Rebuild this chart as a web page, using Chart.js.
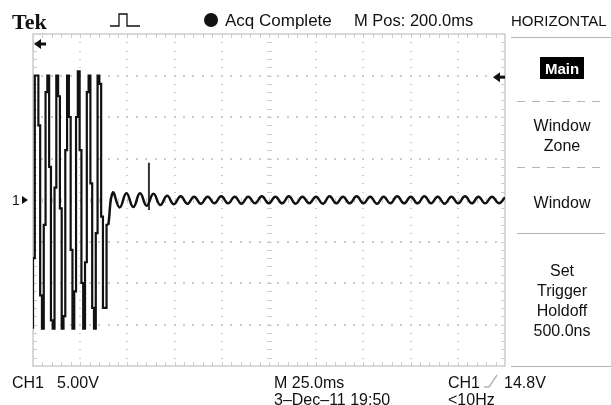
<!DOCTYPE html>
<html>
<head>
<meta charset="utf-8">
<script src="https://cdn.jsdelivr.net/npm/chart.js@4.4.0/dist/chart.umd.min.js"></script>
<style>
  html, body { margin: 0; padding: 0; background: #fff; }
  canvas { display: block; }
</style>
</head>
<body>
<canvas id="scope" width="611" height="405"></canvas>
<script>
// time in ms (10 div x 25 ms), voltage in V (8 div x 5 V)
const burstTime = [0, 0.95, 1.9, 2.85, 3.8, 4.75, 5.7, 6.65, 7.6, 8.55, 9.5, 10.45, 11.4, 12.35, 13.3,
  14.25, 15.2, 16.15, 17.1, 18.05, 19.0, 19.95, 20.9, 21.85, 22.8, 23.75, 24.7, 25.65, 26.6, 27.55,
  28.5, 29.45, 30.4, 31.35, 32.3, 33.25, 34.2, 35.15, 36.1, 37.05, 38.0, 38.95, 39.9];
const burstVolts = [
  -15.5, -7, 15, 15, 9, -11.5,
  -15.5, -3, 13, 15, 4, -14.5,
  -15.5, 1.5, 15, 12.5, -1, -15.5,
  -14, 6, 15, 10, -6, -15.5,
  -11, 10, 15.5, 6, -10, -15.5,
  -7.5, 13, 15, 2, -13, -15.5,
  -4, 15, 14, -2, -13, -13,
  -3];

const tailTime = [39.9, 42.3, 45.9, 49.5, 53.1, 56.7, 60.2, 63.8, 67.4, 71.0, 74.6, 78.2, 81.8, 85.3, 88.9,
  92.5, 96.1, 99.7, 103.3, 106.9, 110.4, 114.0, 117.6, 121.2, 124.8, 128.4, 132.0, 135.5, 139.1, 142.7,
  146.3, 149.9, 153.5, 157.1, 160.6, 164.2, 167.8, 171.4, 175.0, 178.6, 182.2, 185.7, 189.3, 192.9, 196.5,
  200.1, 203.7, 207.3, 210.8, 214.4, 218.0, 221.6, 225.2, 228.8, 232.4, 235.9, 239.5, 243.1, 246.7, 250.0];
const tailVolts = [-3, 0.9, -0.9, 0.8, -0.85, 0.8, -0.7, 0.75, -0.6, 0.5, -0.5, 0.45, -0.45, 0.4, -0.45,
  0.4, -0.4, 0.45, -0.4, 0.4, -0.45, 0.4, -0.4, 0.45, -0.4, 0.4, -0.4, 0.45, -0.45, 0.4,
  -0.4, 0.4, -0.45, 0.45, -0.4, 0.4, -0.4, 0.45, -0.4, 0.4, -0.45, 0.4, -0.4, 0.45, -0.4,
  0.4, -0.4, 0.45, -0.4, 0.4, -0.45, 0.4, -0.4, 0.45, -0.4, 0.4, -0.4, 0.4, -0.4, 0.3];

const spikeTime = [61.4, 61.4];
const spikeVolts = [4.5, -1.2];

const timeRange = [0, 250];
const voltRange = [-20, 20];
const trigLevel = 14.8;

const toPoints = (xs, ys) => xs.map((t, i) => ({ x: t, y: ys[i] }));

const FONT = '"Liberation Sans", Arial, sans-serif';
const GRID = '#cbcbcb';

// graticule like the scope screen: dotted divisions, ticked border and centre lines
const graticule = {
  id: 'graticule',
  beforeDatasetsDraw(chart) {
    const { ctx, chartArea: a } = chart;
    const dx = (a.right - a.left) / 10;
    const dy = (a.bottom - a.top) / 8;
    ctx.save();
    ctx.fillStyle = GRID;
    for (let i = 1; i < 10; i++) {
      const gx = Math.round(a.left + i * dx);
      for (let k = 1; k < 40; k++) {
        const gy = Math.round(a.top + k * dy / 5);
        if (i === 5) ctx.fillRect(gx - 2, gy, 5, 1);
        else ctx.fillRect(gx - 1, gy, 2, 1);
      }
    }
    for (let j = 1; j < 8; j++) {
      const gy = Math.round(a.top + j * dy);
      for (let k = 1; k < 50; k++) {
        const gx = Math.round(a.left + k * dx / 5);
        if (j === 4) ctx.fillRect(gx, gy - 2, 1, 5);
        else ctx.fillRect(gx - 1, gy - 1, 2, 2);
      }
    }
    ctx.strokeStyle = GRID;
    ctx.lineWidth = 1.5;
    ctx.strokeRect(a.left, a.top, a.right - a.left, a.bottom - a.top);
    ctx.lineWidth = 1;
    ctx.beginPath();
    for (let k = 1; k < 50; k++) {
      const gx = Math.round(a.left + k * dx / 5) + 0.5;
      ctx.moveTo(gx, a.top); ctx.lineTo(gx, a.top + 4);
      ctx.moveTo(gx, a.bottom); ctx.lineTo(gx, a.bottom - 4);
    }
    for (let k = 1; k < 40; k++) {
      const gy = Math.round(a.top + k * dy / 5) + 0.5;
      ctx.moveTo(a.left, gy); ctx.lineTo(a.left + 4, gy);
      ctx.moveTo(a.right, gy); ctx.lineTo(a.right - 4, gy);
    }
    ctx.stroke();
    ctx.restore();
  },
  afterDraw(chart) {
    const { ctx, chartArea: a, scales: { x, y } } = chart;
    ctx.save();
    ctx.fillStyle = '#111';
    ctx.strokeStyle = '#111';
    ctx.textBaseline = 'alphabetic';

    // header
    ctx.font = 'bold 22px "Liberation Serif", serif';
    ctx.fillText('Tek', 12, 29);
    ctx.font = '17px ' + FONT;
    ctx.fillText('Acq Complete', 225, 26);
    ctx.font = '16.5px ' + FONT;
    ctx.fillText('M Pos: 200.0ms', 354, 26);
    ctx.font = '15px ' + FONT;
    ctx.fillText('HORIZONTAL', 511, 26);

    // acquisition dot
    ctx.beginPath();
    ctx.arc(211, 20, 7, 0, Math.PI * 2);
    ctx.fill();

    // trigger pulse icon
    ctx.lineWidth = 1.3;
    ctx.beginPath();
    ctx.moveTo(110, 26); ctx.lineTo(119, 26); ctx.lineTo(119, 14); ctx.lineTo(127, 14);
    ctx.lineTo(127, 26); ctx.lineTo(140, 26);
    ctx.stroke();

    // menu panel frame
    ctx.strokeStyle = '#b5b5b5';
    ctx.lineWidth = 1;
    ctx.beginPath();
    ctx.moveTo(511, 37.5); ctx.lineTo(611, 37.5);
    ctx.moveTo(511, 366.5); ctx.lineTo(611, 366.5);
    ctx.moveTo(517, 233.5); ctx.lineTo(605, 233.5);
    ctx.stroke();
    ctx.setLineDash([8, 7]);
    ctx.beginPath();
    ctx.moveTo(517, 101.5); ctx.lineTo(605, 101.5);
    ctx.moveTo(517, 167.5); ctx.lineTo(605, 167.5);
    ctx.stroke();
    ctx.setLineDash([]);

    // menu labels
    ctx.textAlign = 'center';
    ctx.fillStyle = '#000';
    ctx.fillRect(540, 57, 44, 22);
    ctx.fillStyle = '#fff';
    ctx.font = 'bold 15px ' + FONT;
    ctx.fillText('Main', 562, 74);
    ctx.fillStyle = '#111';
    ctx.font = '16px ' + FONT;
    ctx.fillText('Window', 562, 131);
    ctx.fillText('Zone', 562, 151);
    ctx.fillText('Window', 562, 208);
    ctx.fillText('Set', 562, 276);
    ctx.fillText('Trigger', 562, 296);
    ctx.fillText('Holdoff', 562, 316);
    ctx.fillText('500.0ns', 562, 336);

    // footer
    ctx.textAlign = 'left';
    ctx.font = '16px ' + FONT;
    ctx.fillText('CH1', 12, 388);
    ctx.fillText('5.00V', 57, 388);
    ctx.fillText('M 25.0ms', 274, 388);
    ctx.fillText('CH1', 448, 388);
    ctx.fillText('14.8V', 504, 388);
    ctx.fillText('3\u2013Dec\u201311 19:50', 274, 405);
    ctx.fillText('<10Hz', 448, 405);
    ctx.lineWidth = 1.4;
    ctx.beginPath();
    ctx.moveTo(484, 387); ctx.lineTo(489, 387); ctx.lineTo(497, 375);
    ctx.stroke();

    // markers
    const cy = y.getPixelForValue(0);
    ctx.font = '14px ' + FONT;
    ctx.fillText('1', 12, cy + 5);
    ctx.beginPath();
    ctx.moveTo(22, cy - 4); ctx.lineTo(28, cy); ctx.lineTo(22, cy + 4); ctx.closePath();
    ctx.fill();

    const arrow = (tipX, ay) => {
      ctx.beginPath();
      ctx.moveTo(tipX, ay); ctx.lineTo(tipX + 7, ay - 5); ctx.lineTo(tipX + 7, ay + 5); ctx.closePath();
      ctx.fill();
      ctx.fillRect(tipX + 6, ay - 1.5, 6, 3);
    };
    arrow(a.left + 1, a.top + 10);
    arrow(a.right - 12, y.getPixelForValue(trigLevel));
    ctx.restore();
  }
};

new Chart(document.getElementById('scope'), {
  type: 'line',
  data: {
    datasets: [
      {
        label: 'burst',
        data: toPoints(burstTime, burstVolts),
        stepped: 'after',
        borderColor: '#111',
        borderWidth: 2.2,
        pointRadius: 0
      },
      {
        label: 'tail',
        data: toPoints(tailTime, tailVolts),
        tension: 0.45,
        borderColor: '#111',
        borderWidth: 2.5,
        pointRadius: 0
      },
      {
        label: 'spike',
        data: toPoints(spikeTime, spikeVolts),
        borderColor: '#333',
        borderWidth: 2,
        pointRadius: 0
      }
    ]
  },
  options: {
    responsive: false,
    animation: false,
    layout: { padding: { left: 33, right: 106, top: 34, bottom: 39 } },
    plugins: { legend: { display: false }, tooltip: { enabled: false } },
    scales: {
      x: { type: 'linear', min: timeRange[0], max: timeRange[1], display: false },
      y: { type: 'linear', min: voltRange[0], max: voltRange[1], display: false }
    }
  },
  plugins: [graticule]
});
</script>
</body>
</html>
